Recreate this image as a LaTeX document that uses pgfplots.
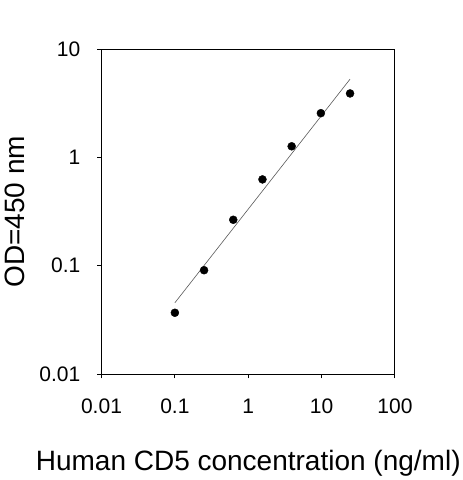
\documentclass[border=0pt]{standalone}
\usepackage{pgfplots}
\pgfplotsset{compat=1.18}
\usepackage{fontspec}
\setmainfont{Liberation Sans}
\begin{document}
\begin{tikzpicture}
\path[use as bounding box] (0,0) rectangle (463pt,480pt);
\begin{axis}[
  at={(101.5pt,106pt)}, anchor=south west,
  scale only axis, width=293.5pt, height=324.7pt,
  xmode=log, ymode=log,
  xmin=0.01, xmax=100, ymin=0.01, ymax=10,
  xtick={0.01,0.1,1,10,100}, ytick={0.01,0.1,1,10},
  xticklabels={0.01,0.1,1,10,100}, yticklabels={0.01,0.1,1,10},
  xminorticks=false, yminorticks=false,
  tick align=outside, major tick length=4.5pt,
  xtick pos=bottom, ytick pos=left,
  axis line style={line width=1pt},
  every tick/.style={black, line width=1pt},
  tick label style={font=\fontsize{21}{24}\selectfont, inner sep=0pt},
  xticklabel style={anchor=base, yshift=-35.3pt},
  yticklabel style={anchor=east, xshift=-16.5pt},
  xlabel={Human CD5 concentration (ng/ml)},
  ylabel={OD=450 nm},
  label style={font=\fontsize{28}{32}\selectfont, inner sep=0pt},
  xlabel style={at={(axis description cs:0.5,0)}, anchor=base, yshift=-96.7pt},
  ylabel style={at={(axis description cs:0,0.5)}, anchor=base, yshift=76.5pt},
  clip=false,
]
\addplot[gray!70!black, line width=0.6pt] coordinates {(0.1,0.0455) (24.4,5.30)};
\addplot[only marks, mark=*, mark size=4pt, black] coordinates {
(0.1,0.0368) (0.25,0.091) (0.625,0.266) (1.5625,0.628) (3.906,1.27) (9.766,2.57) (24.41,3.91)
};
\end{axis}
\end{tikzpicture}
\end{document}
